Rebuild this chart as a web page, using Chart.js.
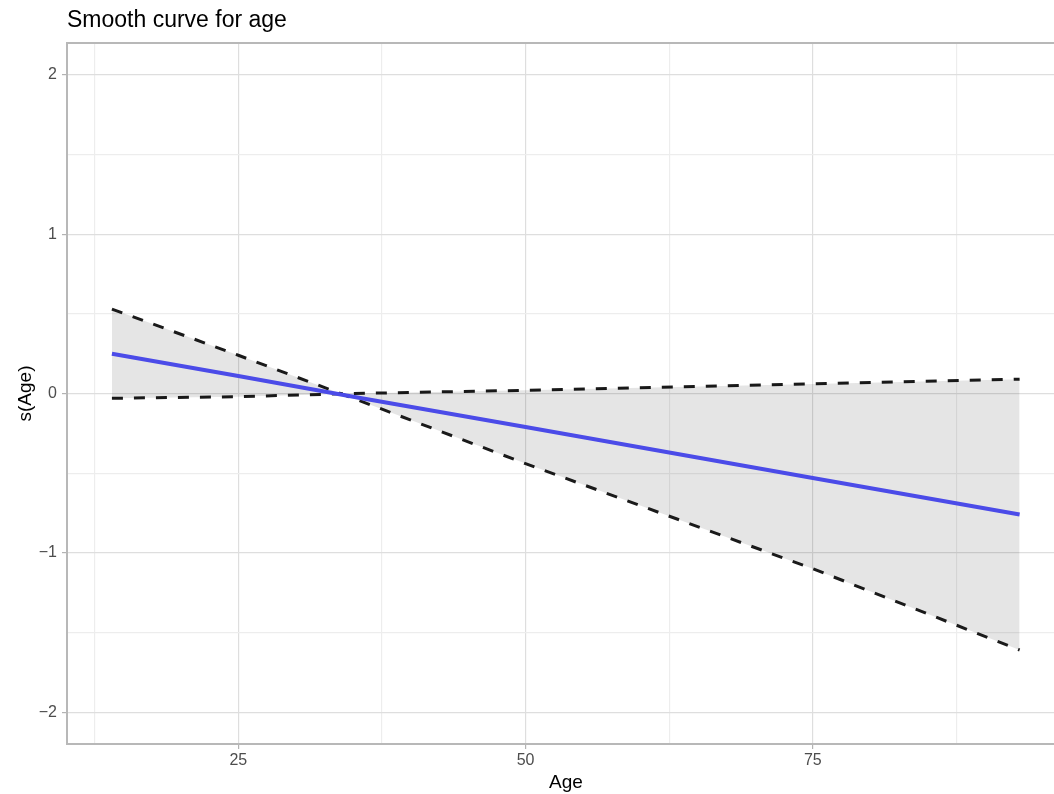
<!DOCTYPE html>
<html>
<head>
<meta charset="utf-8">
<script src="https://cdn.jsdelivr.net/npm/chart.js@4/dist/chart.umd.min.js"></script>
<style>
  html, body { margin: 0; padding: 0; background: #fff; overflow: hidden; }
  #wrap { width: 1054px; height: 794px; overflow: hidden; position: relative; }
  canvas { display: block; }
</style>
</head>
<body>
<div id="wrap"><canvas id="smoothChart" width="1066" height="794"></canvas></div>
<script>
// values
const chartTitle = 'Smooth curve for age';
const ages = [14, 25, 35, 50, 75, 93];
const fitValues = [0.25, 0.11, -0.02, -0.21, -0.53, -0.76];
const bandSteep = [0.53, 0.24, -0.03, -0.44, -1.10, -1.61];
const bandFlat = [-0.03, -0.02, 0.0, 0.02, 0.06, 0.09];

const xMajorTicks = [25, 50, 75];
const xMinorTicks = [12.5, 37.5, 62.5, 87.5];
const yMajorTicks = [-2, -1, 0, 1, 2];
const yMinorTicks = [-1.5, -0.5, 0.5, 1.5];

const FONT = '"Liberation Sans", Arial, sans-serif';
const toPoints = (ys) => ages.map((age, i) => ({ x: age, y: ys[i] }));
const gridColor = (majors) => (ctx) => (ctx.tick && majors.includes(ctx.tick.value) ? '#dedede' : '#ededed');
const tickColor = (majors) => (ctx) => (ctx.tick && majors.includes(ctx.tick.value) ? '#b3b3b3' : 'rgba(0,0,0,0)');
const minusSign = (v) => String(v).replace('-', '\u2212');

const framePlugin = {
  id: 'frame',
  afterDraw(chart) {
    const { ctx, chartArea } = chart;
    ctx.save();
    ctx.strokeStyle = '#b8b8b8';
    ctx.lineWidth = 2;
    ctx.strokeRect(chartArea.left, chartArea.top, chartArea.right - chartArea.left, chartArea.bottom - chartArea.top);
    ctx.fillStyle = '#000';
    ctx.font = '23px ' + FONT;
    ctx.textBaseline = 'alphabetic';
    ctx.textAlign = 'left';
    ctx.fillText(chartTitle, 67, 27);
    ctx.restore();
  },
};

new Chart(document.querySelector('#smoothChart'), {
  type: 'line',
  data: {
    datasets: [
      { label: 's(Age)', data: toPoints(fitValues), borderColor: '#4b4be8', borderWidth: 4, pointRadius: 0, fill: false },
      { label: 'band A', data: toPoints(bandSteep), borderColor: '#1a1a1a', borderWidth: 3, borderDash: [11, 11], pointRadius: 0, fill: '+1', backgroundColor: 'rgba(0,0,0,0.1)' },
      { label: 'band B', data: toPoints(bandFlat), borderColor: '#1a1a1a', borderWidth: 3, borderDash: [11, 11], pointRadius: 0, fill: false },
    ],
  },
  options: {
    responsive: false,
    animation: false,
    devicePixelRatio: 1,
    layout: { padding: { top: 43, right: 1, left: 0, bottom: 0 } },
    plugins: { legend: { display: false }, tooltip: { enabled: false } },
    elements: { line: { tension: 0 } },
    scales: {
      x: {
        type: 'linear',
        min: 10.09,
        max: 96.95,
        afterBuildTicks: (scale) => {
          scale.ticks = [...xMinorTicks, ...xMajorTicks].sort((a, b) => a - b).map((value) => ({ value }));
        },
        afterFit: (scale) => { scale.height = 50; },
        border: { display: false },
        grid: { color: gridColor(xMajorTicks), tickColor: tickColor(xMajorTicks), tickLength: 5, lineWidth: 1.2 },
        ticks: {
          autoSkip: false,
          maxRotation: 0,
          padding: 2,
          color: '#4d4d4d',
          font: { family: FONT, size: 16 },
          callback: (value) => (xMajorTicks.includes(value) ? String(value) : ''),
        },
        title: { display: true, text: 'Age', color: '#000', font: { family: FONT, size: 19 }, padding: { top: 2, bottom: 0 } },
      },
      y: {
        min: -2.2,
        max: 2.2,
        afterBuildTicks: (scale) => {
          scale.ticks = [...yMinorTicks, ...yMajorTicks].sort((a, b) => a - b).map((value) => ({ value }));
        },
        afterFit: (scale) => { scale.width = 67; },
        border: { display: false },
        grid: { color: gridColor(yMajorTicks), tickColor: tickColor(yMajorTicks), tickLength: 5, lineWidth: 1.2 },
        ticks: {
          autoSkip: false,
          padding: 5,
          color: '#4d4d4d',
          font: { family: FONT, size: 16 },
          callback: (value) => (yMajorTicks.includes(value) ? minusSign(value) : ''),
        },
        title: { display: true, text: 's(Age)', color: '#000', font: { family: FONT, size: 19 }, padding: { top: 14, bottom: 0 } },
      },
    },
  },
  plugins: [framePlugin],
});
</script>
</body>
</html>
